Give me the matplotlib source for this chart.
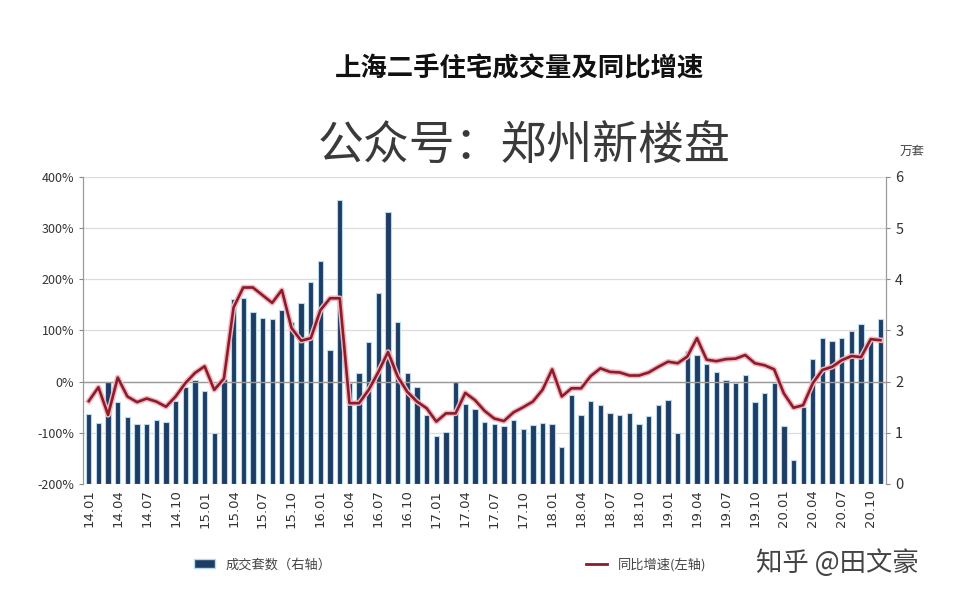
import numpy as np
import matplotlib
matplotlib.use('Agg')
import matplotlib.pyplot as plt
from matplotlib.patches import Patch
from matplotlib.lines import Line2D

plt.rcParams['font.family'] = ['Noto Sans CJK SC', 'DejaVu Sans']

# months 14.01 .. 20.11
months = [f'{y:02d}.{m:02d}' for y in range(14, 21) for m in range(1, 13)][:83]

# 成交套数 (万套, right axis)
volume = [1.37, 1.20, 1.99, 1.61, 1.30, 1.17, 1.17, 1.26, 1.22, 1.62, 1.90, 2.03,
          1.82, 0.99, 2.06, 3.61, 3.64, 3.37, 3.24, 3.22, 3.40, 3.17, 3.53, 3.94,
          4.36, 2.61, 5.55, 1.97, 2.16, 2.78, 3.74, 5.31, 3.16, 2.16, 1.89, 1.35,
          0.94, 1.01, 1.99, 1.56, 1.47, 1.22, 1.17, 1.14, 1.25, 1.07, 1.15, 1.20,
          1.17, 0.72, 1.73, 1.35, 1.62, 1.54, 1.39, 1.35, 1.39, 1.18, 1.33, 1.54,
          1.65, 0.99, 2.60, 2.52, 2.34, 2.18, 2.03, 1.98, 2.13, 1.61, 1.78, 1.98,
          1.14, 0.46, 1.50, 2.45, 2.86, 2.79, 2.86, 2.99, 3.12, 2.85, 3.22]

# 同比增速 (%, left axis)
growth = [-38, -11, -65, 8, -29, -40, -33, -39, -49, -29, -3, 17,
          30, -16, 6, 145, 184, 184, 169, 154, 179, 105, 80, 85,
          140, 163, 163, -42, -42, -16, 19, 58, 10, -20, -39, -52,
          -78, -62, -62, -22, -36, -57, -72, -77, -60, -50, -39, -16,
          24, -29, -13, -13, 11, 26, 19, 18, 12, 12, 18, 29,
          39, 36, 49, 85, 43, 40, 44, 45, 52, 36, 32, 24,
          -23, -51, -46, -3, 23, 29, 42, 50, 48, 83, 81]

left_ticks = [-200, -100, 0, 100, 200, 300, 400]
right_ticks = [0, 1, 2, 3, 4, 5, 6]

x = np.arange(len(months))

fig = plt.figure(figsize=(9.57, 6.01), dpi=100)
ax = fig.add_axes([0.0867, 0.1947, 0.8393, 0.5108])
ax2 = ax.twinx()

# bars on the right axis
ax2.bar(x, volume, width=0.55, color='#1f3d63', edgecolor='#b9d9ee', linewidth=0.8, zorder=2)
ax2.set_ylim(0, 6)
ax2.set_yticks(right_ticks)
ax2.set_yticklabels([str(t) for t in right_ticks], fontsize=10.5, color='#333333')
ax2.grid(axis='y', color='#c8c8c8', linewidth=0.9, linestyle=(0, (1, 0.6)))
ax2.set_axisbelow(True)

# line on the left axis, drawn above the bars
ax.set_zorder(ax2.get_zorder() + 1)
ax.patch.set_visible(False)
ax.plot(x, growth, color='#f2b8bf', linewidth=4.0, solid_joinstyle='round', zorder=3)
ax.plot(x, growth, color='#8c1c2c', linewidth=1.9, solid_joinstyle='round', zorder=4)
ax.axhline(0, color='#9a9a9a', linewidth=1.0, zorder=1)
ax.set_ylim(-200, 400)
ax.set_yticks(left_ticks)
ax.set_yticklabels([f'{t}%' for t in left_ticks], fontsize=9, color='#333333')
ax.set_xlim(-0.6, len(months) - 0.4)

tick_idx = list(range(0, len(months), 3))
ax.set_xticks(tick_idx)
ax.set_xticklabels([months[i] for i in tick_idx], rotation=90, fontsize=9.5,
                   color='#333333', family=['DejaVu Sans'])
ax.tick_params(axis='x', length=0, pad=4)
ax.tick_params(axis='y', length=3, color='#888888')
ax2.tick_params(axis='y', length=3, color='#888888')

for a in (ax, ax2):
    a.spines['top'].set_visible(False)
    a.spines['bottom'].set_visible(False)
    a.spines['left'].set_color('#999999')
    a.spines['right'].set_color('#999999')

# titles
fig.text(0.543, 0.885, '上海二手住宅成交量及同比增速', ha='center', va='center',
         fontsize=19, fontweight='bold', color='#111111')
fig.text(0.548, 0.758, '公众号：郑州新楼盘', ha='center', va='center',
         fontsize=33, color='#3a3a3a')
fig.text(0.953, 0.748, '万套', ha='center', va='center', fontsize=9, color='#444444')

# legends
bar_h = Patch(facecolor='#1f3d63', edgecolor='#b9d9ee')
line_h = Line2D([], [], color='#8c1c2c', linewidth=2)
fig.legend([bar_h], ['成交套数（右轴）'], loc='center left', bbox_to_anchor=(0.19, 0.06),
           frameon=False, fontsize=9.5, handlelength=1.6, labelcolor='#444444')
fig.legend([line_h], ['同比增速(左轴)'], loc='center left', bbox_to_anchor=(0.6, 0.06),
           frameon=False, fontsize=9.5, handlelength=1.6, labelcolor='#444444')

# watermark
fig.text(0.79, 0.063, '知乎 @田文豪', ha='left', va='center', fontsize=19, color='#444444')

fig.savefig('out.png', dpi=100)
